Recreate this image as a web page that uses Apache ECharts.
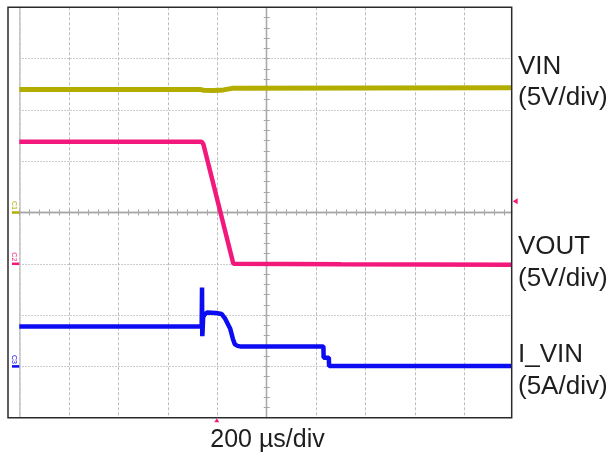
<!DOCTYPE html>
<html>
<head>
<meta charset="utf-8">
<script src="https://cdn.jsdelivr.net/npm/echarts@6/dist/echarts.min.js"></script>
<style>
html,body{margin:0;padding:0;background:#fff;}
#c{width:615px;height:456px;}
</style>
</head>
<body>
<div id="c"></div>
<script>
// ---- data (time in µs relative to screen centre) ----
const vinTime  = [-1000, -270, -255, -215, -175, -140, 990];
const vinVolts = [12.0, 12.0, 11.92, 11.9, 11.95, 12.1, 12.15];

const voutTime  = [-1000, -263, -256, -135, 300, 990];
const voutVolts = [11.9, 11.9, 11.65, 0.0, -0.05, -0.1];

const ivinTime = [-1000, -263, -261.5, -260.5, -259.5, -257, -250, -240, -205, -182, -168, -148, -137, -129, -118, -108, 229, 230, 251, 252, 990];
const ivinAmps = [3.9, 3.9, 7.7, 2.95, 3.3, 4.8, 5.1, 5.25, 5.2, 5.1, 4.65, 3.7, 2.7, 2.15, 2.0, 1.95, 1.95, 0.85, 0.85, 0.03, 0.03];

const labelLines = [["VIN", "(5V/div)"], ["VOUT", "(5V/div)"], ["I_VIN", "(5A/div)"]];
const timeBaseLabel = "200 µs/div";
const channelNames = ["C1", "C2", "C3"];
const triggerLevelV = 6.1;   // on VOUT channel
const triggerTimeUs = -202;

const colVin = '#b3ad00', colVout = '#f2187c', colIvin = '#0c0cf2';
const pair = (t, v) => t.map((x, i) => [x, v[i]]);

const G = {left: 19.3, top: 7.3, right: 615 - 511.7, bottom: 456 - 417.7};
const chart = echarts.init(document.getElementById('c'), null, {renderer: 'canvas'});

const centreLine = {show: true, onZero: true, onZeroAxisIndex: 0, lineStyle: {color: '#a8a8a8', width: 1.3}};
const tickStyle = {color: '#a8a8a8', width: 1};

chart.setOption({
  animation: false,
  backgroundColor: '#fff',
  grid: {left: G.left, top: G.top, right: G.right, bottom: G.bottom, containLabel: false},
  xAxis: [
    {type: 'value', min: -1000, max: 990, interval: 200,
     axisLine: centreLine,
     axisTick: {show: true, inside: false, length: 3, lineStyle: tickStyle},
     minorTick: {show: true, splitNumber: 5, length: 3, lineStyle: tickStyle},
     axisLabel: {show: false},
     splitLine: {show: true, lineStyle: {color: '#bcbcbc', width: 1, type: [3, 2]}}},
    {type: 'value', min: -1000, max: 990, interval: 200, position: 'bottom',
     axisLine: centreLine,
     axisTick: {show: true, inside: true, length: 3, lineStyle: tickStyle},
     minorTick: {show: true, splitNumber: 5, length: 3, lineStyle: tickStyle},
     axisLabel: {show: false}, splitLine: {show: false}}
  ],
  yAxis: [
    {type: 'value', min: -20, max: 20, interval: 5,
     axisLine: centreLine,
     axisTick: {show: true, inside: false, length: 3, lineStyle: tickStyle},
     minorTick: {show: true, splitNumber: 5, length: 3, lineStyle: tickStyle},
     axisLabel: {show: false},
     splitLine: {show: true, lineStyle: {color: '#bcbcbc', width: 1, type: [1.5, 1.5]}}},
    {type: 'value', min: -15, max: 25, interval: 5, position: 'left',
     axisLine: {show: true, onZero: false, lineStyle: {color: '#c4c4c4', width: 1.5}},
     axisTick: {show: false}, axisLabel: {show: false}, splitLine: {show: false}},
    {type: 'value', min: -5, max: 35, interval: 5, show: false},
    {type: 'value', min: -20, max: 20, interval: 5, position: 'left',
     axisLine: centreLine,
     axisTick: {show: true, inside: true, length: 3, lineStyle: tickStyle},
     minorTick: {show: true, splitNumber: 5, length: 3, lineStyle: tickStyle},
     axisLabel: {show: false}, splitLine: {show: false}}
  ],
  series: [
    {name: 'VIN', type: 'line', xAxisIndex: 0, yAxisIndex: 0, data: pair(vinTime, vinVolts),
     showSymbol: false, lineStyle: {color: colVin, width: 5}, z: 5},
    {name: 'VOUT', type: 'line', xAxisIndex: 0, yAxisIndex: 1, data: pair(voutTime, voutVolts),
     showSymbol: false, lineStyle: {color: colVout, width: 4.5}, z: 5},
    {name: 'I_VIN', type: 'line', xAxisIndex: 0, yAxisIndex: 2, data: pair(ivinTime, ivinAmps),
     showSymbol: false, lineStyle: {color: colIvin, width: 4.5}, z: 5}
  ]
});

// ---- decorations positioned through the chart's own scales ----
const W = 615, H = 456;
const gx0 = G.left, gx1 = W - G.right, gy0 = G.top, gy1 = H - G.bottom;
const zeroY = [0, 1, 2].map(k => chart.convertToPixel({xAxisIndex: 0, yAxisIndex: k}, [0, 0])[1]);
const chanCols = [colVin, colVout, colIvin];
const graphics = [];

graphics.push({type: 'rect', shape: {x: 8, y: gy0, width: gx1 - 8, height: gy1 - gy0},
  style: {fill: 'none', stroke: '#2a2a2a', lineWidth: 1.5}, z: 20, silent: true});

zeroY.forEach((y, k) => {
  graphics.push({type: 'line', shape: {x1: 12, y1: y, x2: gx0, y2: y},
    style: {stroke: chanCols[k], lineWidth: 2.5}, z: 21});
  graphics.push({type: 'text', x: 13.8, y: y - 7, rotation: -Math.PI / 2,
    style: {text: channelNames[k], fill: chanCols[k], font: '7px "Liberation Sans"',
            align: 'center', verticalAlign: 'middle'}, z: 21});
});

const trigY = chart.convertToPixel({xAxisIndex: 0, yAxisIndex: 1}, [0, triggerLevelV])[1];
graphics.push({type: 'polygon', shape: {points: [[gx1 + 1, trigY], [gx1 + 6, trigY - 3], [gx1 + 6, trigY + 3]]},
  style: {fill: colVout}, z: 21});
const trigX = chart.convertToPixel({xAxisIndex: 0, yAxisIndex: 0}, [triggerTimeUs, 0])[0];
graphics.push({type: 'polygon', shape: {points: [[trigX, gy1 + 0.5], [trigX - 2.5, gy1 + 4.5], [trigX + 2.5, gy1 + 4.5]]},
  style: {fill: colVout}, z: 21});

const labelMid = [[66.5, 98], [247, 278.5], [355, 386.5]];
labelLines.forEach((lines, k) => {
  lines.forEach((txt, j) => {
    graphics.push({type: 'text', x: 518, y: labelMid[k][j],
      style: {text: txt, fill: '#1e1e1e', font: '26px "Liberation Sans"', align: 'left', verticalAlign: 'middle'}, z: 22});
  });
});
graphics.push({type: 'text', x: (gx0 + gx1) / 2 + 2, y: 440,
  style: {text: timeBaseLabel, fill: '#1e1e1e', font: '25px "Liberation Sans"', align: 'center', verticalAlign: 'middle'}, z: 22});

chart.setOption({graphic: graphics});
</script>
</body>
</html>
